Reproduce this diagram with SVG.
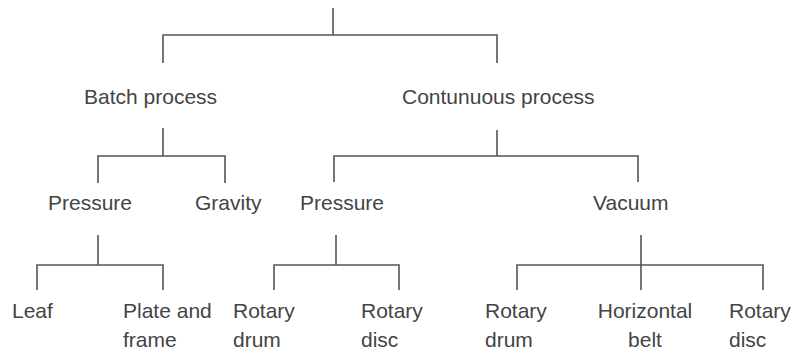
<svg xmlns="http://www.w3.org/2000/svg" width="794" height="354" viewBox="0 0 794 354">
<style>
text{font-family:"Liberation Sans",Arial,sans-serif;font-size:21px;fill:#444}
.c path{fill:none;stroke:#555;stroke-width:1.6}
</style>
<rect width="794" height="354" fill="#fff"/>
<g class="c" id="connectors">
<path d="M333 8V35M163 63V35H497V63"/>
<path d="M163 128V156M98 183V156H225V183"/>
<path d="M497 130V156M334 182V156H638V182"/>
<path d="M98 235V265M37 290V265H163V290"/>
<path d="M336 235V265M274 290V265H399V290"/>
<path d="M641 235V290M517 290V265H763V290"/>
</g>
<g id="batch"><text x="84" y="104">Batch process</text></g>
<g id="continuous"><text x="402" y="104">Contunuous process</text></g>
<g id="pressure1"><text x="48" y="210">Pressure</text></g>
<g id="gravity"><text x="195" y="210">Gravity</text></g>
<g id="pressure2"><text x="300" y="210">Pressure</text></g>
<g id="vacuum"><text x="593" y="210">Vacuum</text></g>
<g id="leaf"><text x="12" y="318">Leaf</text></g>
<g id="plate"><text x="123" y="318">Plate and</text><text x="123" y="347">frame</text></g>
<g id="rdrum1"><text x="233" y="318">Rotary</text><text x="233" y="347">drum</text></g>
<g id="rdisc1"><text x="361" y="318">Rotary</text><text x="361" y="347">disc</text></g>
<g id="rdrum2"><text x="485" y="318">Rotary</text><text x="485" y="347">drum</text></g>
<g id="hbelt"><text x="645" y="318" text-anchor="middle">Horizontal</text><text x="645" y="347" text-anchor="middle">belt</text></g>
<g id="rdisc2"><text x="729" y="318">Rotary</text><text x="729" y="347">disc</text></g>
</svg>
